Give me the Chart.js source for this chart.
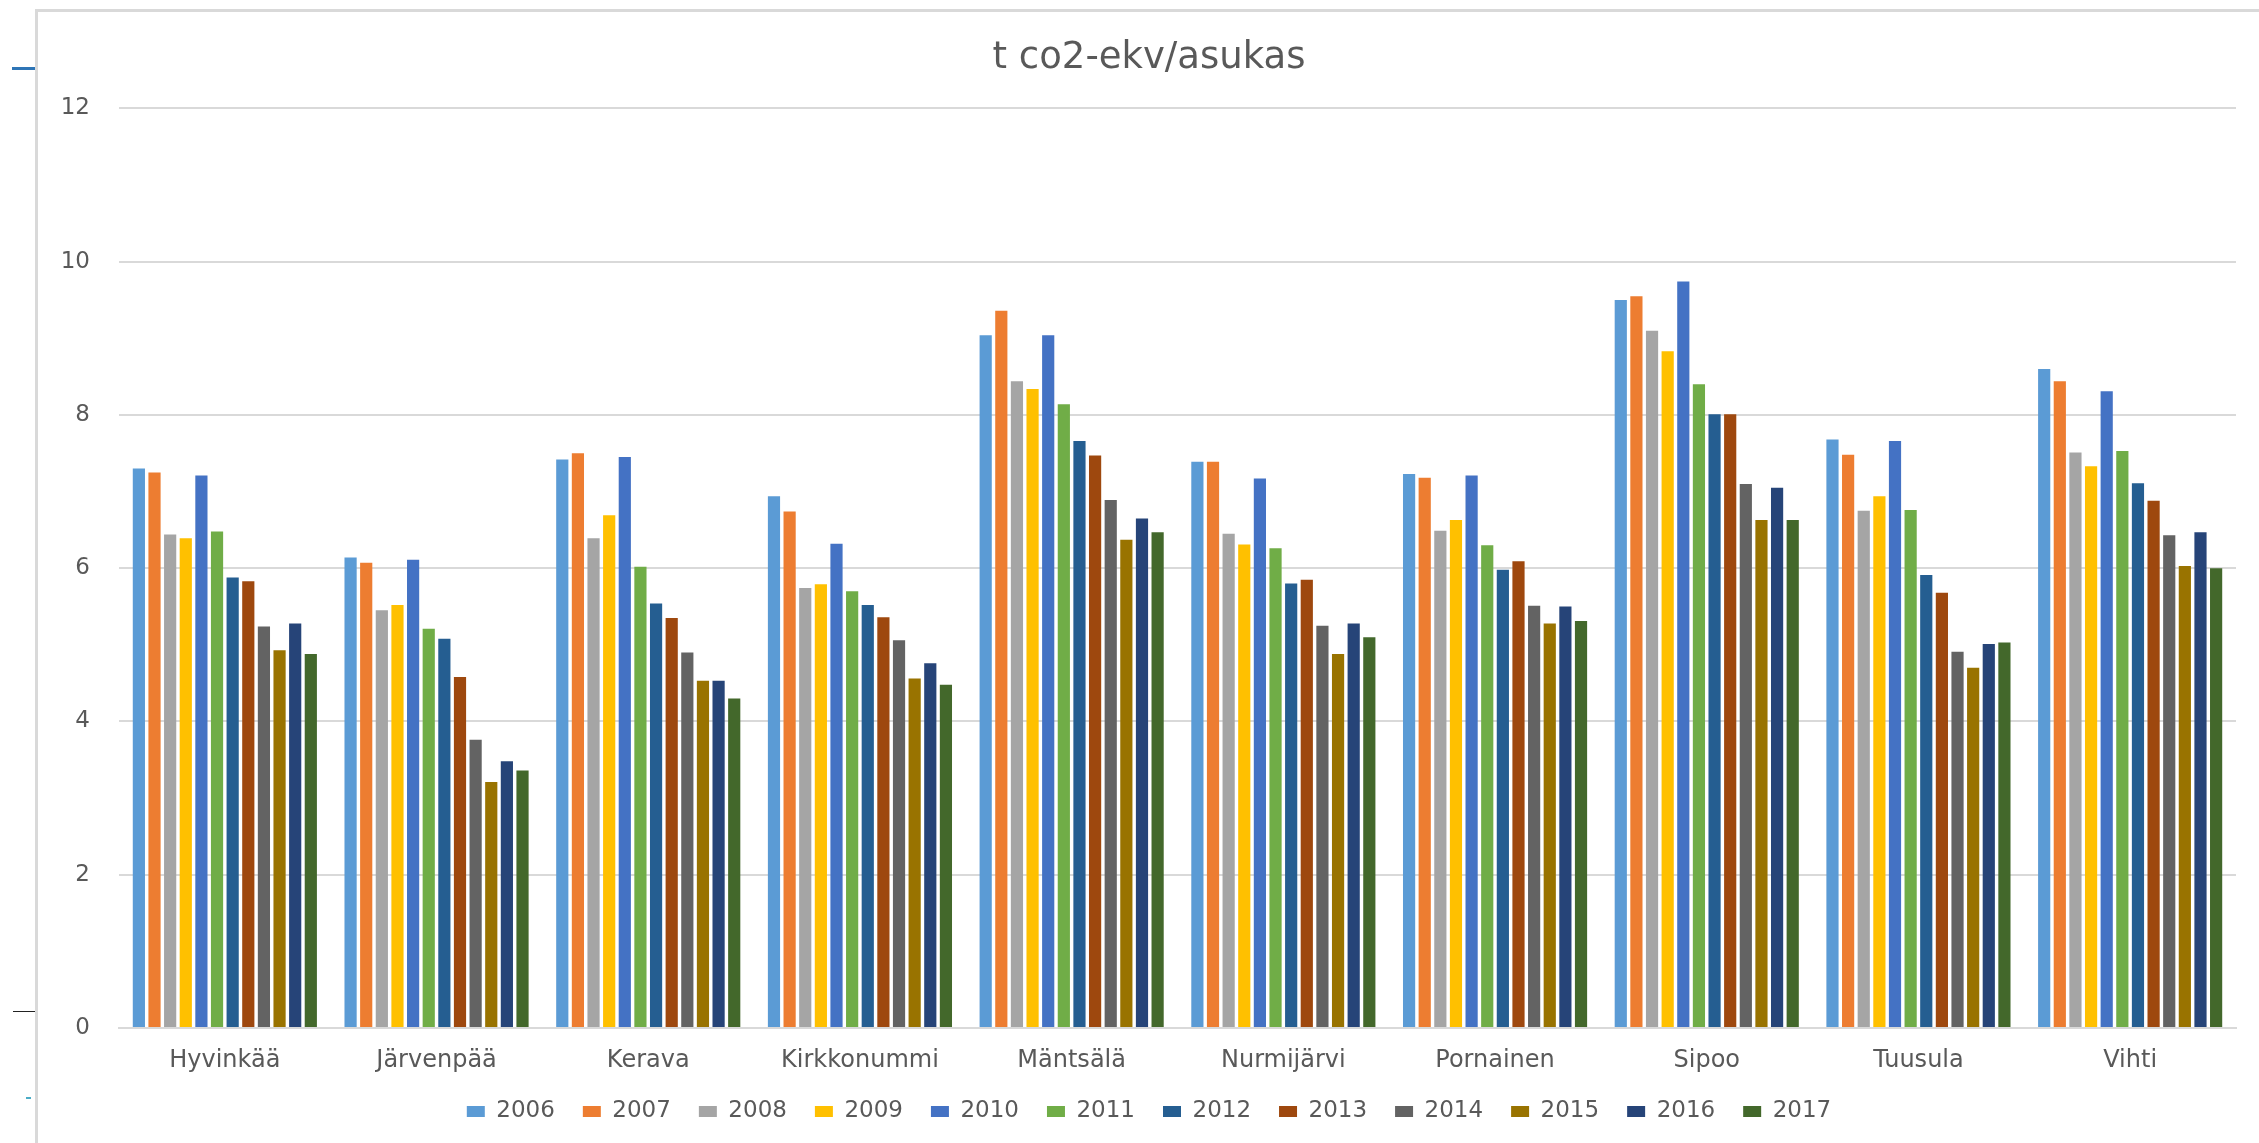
<!DOCTYPE html>
<html lang="fi">
<head>
<meta charset="utf-8">
<title>t co2-ekv/asukas</title>
<script src="https://cdn.jsdelivr.net/npm/chart.js@4.4.1/dist/chart.umd.min.js"></script>
<style>
    html, body { margin: 0; padding: 0; background: #fff; overflow: hidden; }
    body { width: 2259px; height: 1143px; position: relative; }
    /* slide frame left/top edge */
    .frame {
        position: absolute; left: 35px; top: 9px; right: -40px; bottom: -40px;
        border-left: 3px solid #D9D9D9; border-top: 3px solid #D9D9D9;
    }
    .chart-box { position: absolute; left: 38px; top: 12px; width: 2240px; height: 1131px; }
    .mark { position: absolute; }
</style>
</head>
<body>
<div class="frame"></div>
<div class="mark" style="left:12px;top:67px;width:23px;height:3px;background:#2E75B6"></div>
<div class="mark" style="left:13px;top:1011px;width:22px;height:1px;background:#222"></div>
<div class="mark" style="left:26px;top:1097px;width:5px;height:2px;background:#4BACC6"></div>
<div class="chart-box"><canvas id="co2Chart"></canvas></div>

<script>
// ============================================
// t co2-ekv/asukas - kunnittain 2006-2017
// ============================================

Chart.defaults.font.family = "'DejaVu Sans', sans-serif";
Chart.defaults.color = "#595959";

const MUNICIPALITIES = ["Hyvinkää", "Järvenpää", "Kerava", "Kirkkonummi", "Mäntsälä",
    "Nurmijärvi", "Pornainen", "Sipoo", "Tuusula", "Vihti"];

const YEARS = ["2006", "2007", "2008", "2009", "2010", "2011",
    "2012", "2013", "2014", "2015", "2016", "2017"];

// values per year, same order as MUNICIPALITIES
const v2006 = [7.30, 6.14, 7.42, 6.94, 9.04, 7.39, 7.23, 9.50, 7.68, 8.60];
const v2007 = [7.25, 6.07, 7.50, 6.74, 9.36, 7.39, 7.18, 9.55, 7.48, 8.44];
const v2008 = [6.44, 5.45, 6.39, 5.74, 8.44, 6.45, 6.49, 9.10, 6.75, 7.51];
const v2009 = [6.39, 5.52, 6.69, 5.79, 8.34, 6.31, 6.63, 8.83, 6.94, 7.33];
const v2010 = [7.21, 6.11, 7.45, 6.32, 9.04, 7.17, 7.21, 9.74, 7.66, 8.31];
const v2011 = [6.48, 5.21, 6.02, 5.70, 8.14, 6.26, 6.30, 8.40, 6.76, 7.53];
const v2012 = [5.88, 5.08, 5.54, 5.52, 7.66, 5.80, 5.98, 8.01, 5.91, 7.11];
const v2013 = [5.83, 4.58, 5.35, 5.36, 7.47, 5.85, 6.09, 8.01, 5.68, 6.88];
const v2014 = [5.24, 3.76, 4.90, 5.06, 6.89, 5.25, 5.51, 7.10, 4.91, 6.43];
const v2015 = [4.93, 3.21, 4.53, 4.56, 6.37, 4.88, 5.28, 6.63, 4.70, 6.03];
const v2016 = [5.28, 3.48, 4.53, 4.76, 6.65, 5.28, 5.50, 7.05, 5.01, 6.47];
const v2017 = [4.88, 3.36, 4.30, 4.48, 6.47, 5.10, 5.31, 6.63, 5.03, 6.00];

const YEAR_VALUES = [v2006, v2007, v2008, v2009, v2010, v2011,
    v2012, v2013, v2014, v2015, v2016, v2017];

// Office default palette
const PALETTE = ["#5B9BD5", "#ED7D31", "#A5A5A5", "#FFC000", "#4472C4", "#70AD47",
    "#255E91", "#9E480E", "#636363", "#997300", "#264478", "#43682B"];

const Y_TICKS = [0, 2, 4, 6, 8, 10, 12];

function renderEmissionChart(canvasId) {
    const canvas = document.getElementById(canvasId);
    if (!canvas) return;

    const datasets = YEARS.map((year, i) => ({
        label: year,
        data: YEAR_VALUES[i],
        backgroundColor: PALETTE[i],
        borderWidth: 0,
        categoryPercentage: 0.886,
        barPercentage: 0.78
    }));

    new Chart(canvas, {
        type: "bar",
        data: { labels: MUNICIPALITIES, datasets: datasets },
        options: {
            responsive: true,
            maintainAspectRatio: false,
            animation: false,
            layout: { padding: { top: 0, left: 24, right: 42, bottom: 10 } },
            plugins: {
                title: {
                    display: true,
                    text: "t co2-ekv/asukas",
                    color: "#595959",
                    font: { size: 37, weight: "normal" },
                    padding: { top: 24, bottom: 28 }
                },
                legend: {
                    position: "bottom",
                    labels: {
                        boxWidth: 18,
                        boxHeight: 11,
                        padding: 28,
                        color: "#595959",
                        font: { size: 23 }
                    }
                },
                tooltip: { enabled: true }
            },
            scales: {
                x: {
                    grid: { display: false, drawTicks: false },
                    border: { display: true, color: "#D9D9D9", width: 2 },
                    ticks: { padding: 18, font: { size: 24 }, color: "#595959" },
                    // Chart.js counts tick padding twice; keep the axis band tight
                    afterFit: (scale) => { scale.height = 44; }
                },
                y: {
                    min: Y_TICKS[0],
                    max: Y_TICKS[Y_TICKS.length - 1],
                    grid: { color: "#D9D9D9", lineWidth: 2, drawTicks: false },
                    border: { display: false },
                    ticks: { stepSize: 2, padding: 29, font: { size: 23 }, color: "#595959" },
                    afterFit: (scale) => { scale.width = 57; }
                }
            }
        }
    });
}

renderEmissionChart("co2Chart");
</script>
</body>
</html>
